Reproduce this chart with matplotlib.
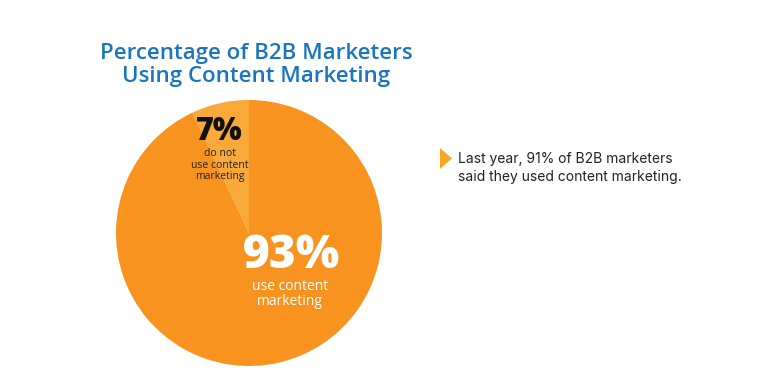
import matplotlib.pyplot as plt
from matplotlib.patches import Polygon

# data
segments = ["do not use content marketing", "use content marketing"]
shares = [7, 93]
share_labels = ["7%", "93%"]
sub_labels = ["do not\nuse content\nmarketing", "use content\nmarketing"]
title = "Percentage of B2B Marketers\nUsing Content Marketing"
note = "Last year, 91% of B2B marketers\nsaid they used content marketing."

W, H = 774, 387
fig = plt.figure(figsize=(W / 100, H / 100), dpi=100)
ax = fig.add_axes([0, 0, 1, 1])

ax.pie(
    shares,
    colors=["#F9A83A", "#F7931E"],
    startangle=90,
    counterclock=True,
    center=(249, H - 233),
    radius=133,
    wedgeprops={"linewidth": 0},
    frame=True,
)
ax.set_xlim(0, W)
ax.set_ylim(0, H)
ax.set_aspect("equal")
ax.axis("off")

ax.text(256, H - 65, title, ha="center", va="center", fontsize=16,
        family="Open Sans", fontweight="semibold", color="#1B75BC",
        linespacing=1.1)

ax.text(219, H - 132, share_labels[0], ha="center", va="center", fontsize=22,
        family="Open Sans", fontweight="heavy", color="#111111")
ax.text(220, H - 165, sub_labels[0], ha="center", va="center", fontsize=7.5,
        family="Open Sans", color="#222222", linespacing=1.0)

ax.text(291, H - 256, share_labels[1], ha="center", va="center", fontsize=33,
        family="Open Sans", fontweight="heavy", color="white")
ax.text(290, H - 294, sub_labels[1], ha="center", va="center", fontsize=10,
        family="Open Sans", color="white", linespacing=0.95)

ax.add_patch(Polygon([[440, H - 148], [440, H - 169], [452, H - 158.5]],
                     closed=True, color="#F9A825", lw=0))
ax.text(458, H - 168, note, ha="left", va="center", fontsize=10,
        family="Inter", color="#222222", linespacing=1.35)

fig.savefig("out.png", dpi=100)
